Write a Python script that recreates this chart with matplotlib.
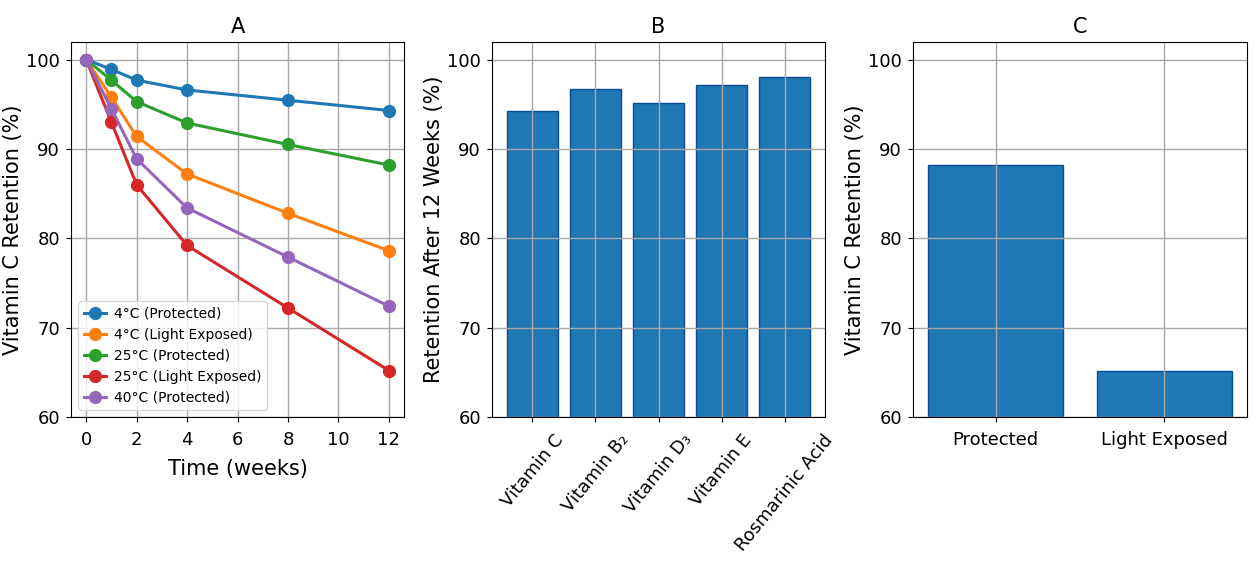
import numpy as np
import matplotlib
matplotlib.use("Agg")
import matplotlib.pyplot as plt

# panel A: retention over time
weeks = [0, 1, 2, 4, 8, 12]
series_labels = ["4°C (Protected)", "4°C (Light Exposed)", "25°C (Protected)",
                 "25°C (Light Exposed)", "40°C (Protected)"]
ret_4_prot = [100, 98.9, 97.7, 96.6, 95.45, 94.3]
ret_4_light = [100, 95.8, 91.4, 87.2, 82.8, 78.6]
ret_25_prot = [100, 97.7, 95.3, 92.9, 90.5, 88.2]
ret_25_light = [100, 93.0, 86.0, 79.2, 72.2, 65.2]
ret_40_prot = [100, 94.5, 88.9, 83.4, 77.9, 72.4]

# panel B: retention after 12 weeks
compounds = ["Vitamin C", "Vitamin B₂", "Vitamin D₃", "Vitamin E", "Rosmarinic Acid"]
retention_12w = [94.3, 96.7, 95.1, 97.1, 98.1]

# panel C: protected vs light exposed
conditions = ["Protected", "Light Exposed"]
vitc_condition = [88.2, 65.2]

colors = ["#1f77b4", "#ff7f0e", "#2ca02c", "#d62728", "#9467bd"]
bar_color = "#1f77b4"
bar_edge = "#0d4a94"
grid_kw = dict(color="#a8a8a8", linewidth=1.0)

fig = plt.figure(figsize=(12.6, 5.72), dpi=100)
W, H = 1260, 572


def box(l, t, r, b):
    return [l / W, 1 - b / H, (r - l) / W, (b - t) / H]


axA = fig.add_axes(box(71, 41.7, 404, 417))
axB = fig.add_axes(box(492, 41.7, 825, 417))
axC = fig.add_axes(box(913, 41.7, 1247, 417))

all_series = [ret_4_prot, ret_4_light, ret_25_prot, ret_25_light, ret_40_prot]
for vals, lab, c in zip(all_series, series_labels, colors):
    axA.plot(weeks, vals, marker="o", color=c, linewidth=2.2, markersize=8.5, label=lab)
axA.set_xticks([0, 2, 4, 6, 8, 10, 12])
axA.set_xlabel("Time (weeks)", fontsize=15, labelpad=7)
axA.set_title("A", fontsize=15)
axA.legend(loc="lower left", fontsize=10, borderpad=0.4, labelspacing=0.5,
           handlelength=1.6, handletextpad=0.6)

xb = np.arange(len(compounds))
axB.bar(xb, retention_12w, width=0.8, color=bar_color, edgecolor=bar_edge, linewidth=1)
axB.set_xticks(xb)
axB.set_xticklabels(compounds, rotation=51, ha="center", fontsize=13)
axB.set_title("B", fontsize=15)

xc = np.arange(len(conditions))
axC.bar(xc, vitc_condition, width=0.8, color=bar_color, edgecolor=bar_edge, linewidth=1)
axC.set_xticks(xc)
axC.set_xticklabels(conditions, fontsize=13)
axC.set_title("C", fontsize=15)

ylabels = ["Vitamin C Retention (%)", "Retention After 12 Weeks (%)", "Vitamin C Retention (%)"]
for ax, yl in zip([axA, axB, axC], ylabels):
    ax.set_yticks([60, 70, 80, 90, 100])
    ax.set_ylim(60, 102)
    ax.set_ylabel(yl, fontsize=15, labelpad=2)
    ax.grid(True, **grid_kw)
    ax.tick_params(axis="y", labelsize=13, pad=4.5)
    ax.tick_params(axis="x", labelsize=13, pad=6.5)

fig.savefig("out.png", dpi=100)
